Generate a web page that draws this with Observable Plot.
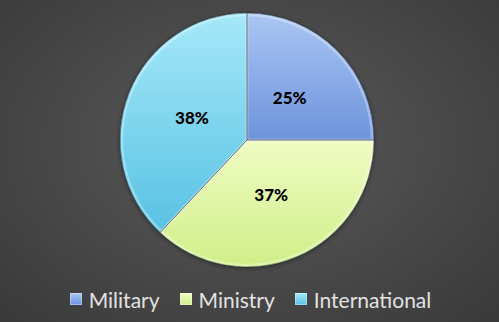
<!DOCTYPE html>
<html><head><meta charset="utf-8">
<script src="https://cdn.jsdelivr.net/npm/d3@7"></script>
<script src="https://cdn.jsdelivr.net/npm/@observablehq/plot@0.6"></script>
<style>
html,body{margin:0;padding:0;}
body{width:499px;height:322px;overflow:hidden;background:radial-gradient(ellipse 70% 75% at 50% 45%, #5b5b5b 0%, #474747 60%, #3a3a3a 100%);font-family:Lato,"Open Sans",sans-serif;}
#legend{display:flex;justify-content:center;align-items:center;height:42px;margin-top:-2px;color:#e2e2e2;font-size:21px;padding-left:2px;}
.item{display:flex;align-items:center;margin:0 10px;}
.sw{width:12px;height:12px;margin-right:7px;box-shadow:inset 0 0 0 1px rgba(255,255,255,0.35);}
</style></head>
<body>
<div id="chart"></div>
<div id="legend"></div>
<script>
const categories = ["Military", "Ministry", "International"];
const values = [25, 37, 38];
const labels = ["25%", "37%", "38%"];
const colorsTop = ["#abc6f3", "#f0fcc4", "#a6e8f9"];
const colorsBottom = ["#6d93dc", "#d0ee88", "#58c2e3"];

const data = categories.map((c, i) => ({category: c, value: values[i], label: labels[i], i}));
const pie = d3.pie().sort(null).value(d => d.value)(data);
const slices = pie.map(p => ({...p.data, startAngle: p.startAngle, endAngle: p.endAngle,
  mid: (p.startAngle + p.endAngle) / 2}));
const LR = 0.47;

const cx = 247, cy = 140, R = 127;

const plot = Plot.plot({
  width: 499, height: 280,
  margin: 0,
  style: {background: "transparent", overflow: "visible"},
  x: {domain: [-1, 1], range: [cx - R, cx + R], axis: null},
  y: {domain: [-1, 1], range: [cy + R, cy - R], axis: null},
  marks: [
    Plot.dot(slices, {
      x: () => 0, y: () => 0,
      render: (index, scales, values, dims, context) => {
        const g = d3.create("svg:g");
        const x0 = scales.x(0), y0 = scales.y(0);
        const r = Math.abs(scales.x(1) - scales.x(0));
        const defs = g.append("defs");
        const f = defs.append("filter").attr("id", "shadow").attr("x", "-20%").attr("y", "-20%").attr("width", "140%").attr("height", "140%");
        f.append("feDropShadow").attr("dx", 0).attr("dy", 1).attr("stdDeviation", 2.5).attr("flood-color", "#000").attr("flood-opacity", 0.5);
        slices.forEach((s, i) => {
          const lg = defs.append("linearGradient").attr("id", "grad" + i)
            .attr("x1", 0).attr("y1", 0).attr("x2", 0).attr("y2", 1);
          lg.append("stop").attr("offset", "0%").attr("stop-color", colorsTop[i]);
          lg.append("stop").attr("offset", "100%").attr("stop-color", colorsBottom[i]);
        });
        const arc = d3.arc().innerRadius(0).outerRadius(r);
        const gg = g.append("g").attr("transform", `translate(${x0},${y0})`);
        gg.append("circle").attr("r", r).attr("fill", "#666").attr("filter", "url(#shadow)");
        gg.selectAll("path.s").data(index).join("path").attr("class", "s")
          .attr("d", i => arc(slices[i]))
          .attr("fill", i => `url(#grad${i})`);
        const arcIn = d3.arc().innerRadius(0).outerRadius(r - 2);
        gg.selectAll("path.b").data(index).join("path").attr("class", "b")
          .attr("d", i => arcIn(slices[i]))
          .attr("fill", "none").attr("stroke", "rgba(255,255,255,0.3)").attr("stroke-width", 2.5);
        gg.selectAll("path.o").data(index).join("path").attr("class", "o")
          .attr("d", i => arc(slices[i]))
          .attr("fill", "none").attr("stroke", "rgba(30,50,70,0.5)").attr("stroke-width", 0.8);
        return g.node();
      }
    }),
    Plot.text(slices, {
      x: d => LR * Math.sin(d.mid),
      y: d => LR * Math.cos(d.mid),
      text: "label",
      fill: "#000",
      fontSize: 17,
      fontWeight: 900,
      fontFamily: "Lato, 'DejaVu Sans', sans-serif"
    })
  ]
});
document.getElementById("chart").append(plot);

const legend = document.getElementById("legend");
categories.forEach((c, i) => {
  const item = document.createElement("div");
  item.className = "item";
  const sw = document.createElement("div");
  sw.className = "sw";
  sw.style.background = `linear-gradient(${colorsTop[i]}, ${colorsBottom[i]})`;
  const t = document.createElement("span");
  t.textContent = c;
  item.append(sw, t);
  legend.append(item);
});
</script>
</body></html>
